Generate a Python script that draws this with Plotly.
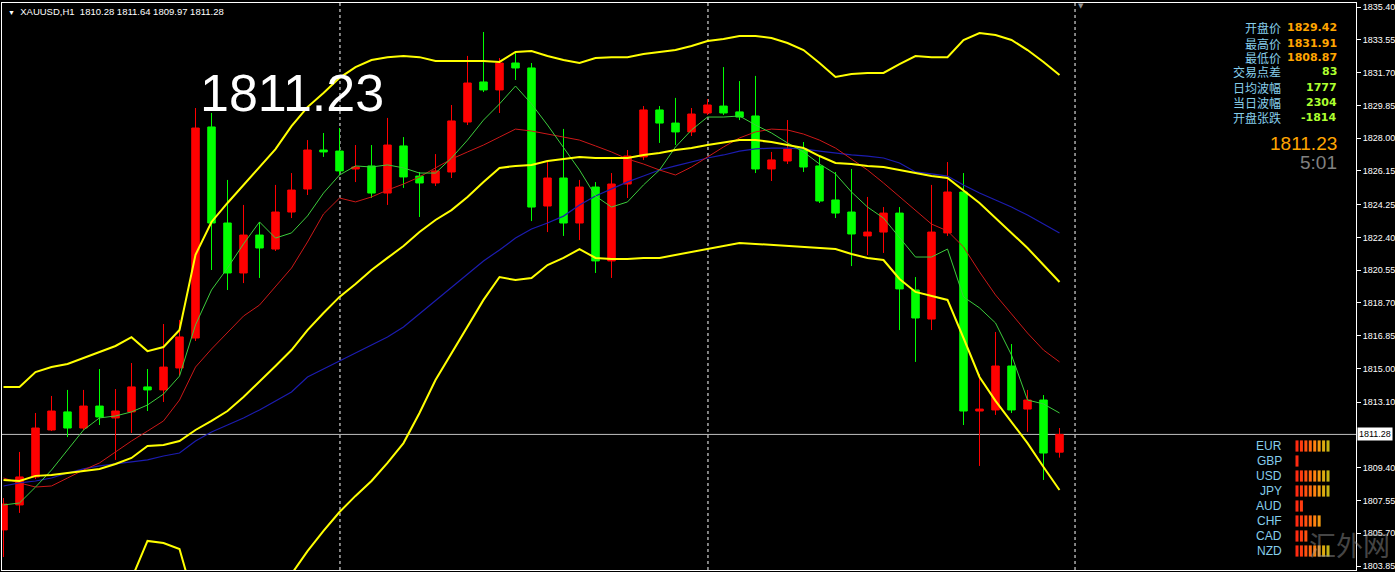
import plotly.graph_objects as go

# ---------------- data ----------------
opens = [1805.89, 1807.30, 1808.88, 1811.53, 1812.55, 1811.64, 1812.88, 1812.21, 1812.55, 1813.96,
         1813.79, 1815.03, 1816.72, 1828.63, 1823.21, 1820.39, 1822.53, 1821.74, 1823.83, 1825.13,
         1827.33, 1827.27, 1826.26, 1826.43, 1824.90, 1827.56, 1825.86, 1825.47, 1826.09, 1828.91,
         1831.17, 1830.72, 1832.24, 1831.96, 1824.17, 1825.75, 1823.21, 1825.24, 1821.07, 1825.41,
         1826.94, 1829.59, 1828.85, 1828.35, 1829.42, 1829.81, 1829.48, 1829.25, 1826.26, 1826.71,
         1827.39, 1826.43, 1824.51, 1823.83, 1822.48, 1822.70, 1823.77, 1819.43, 1817.79, 1822.65,
         1824.96, 1812.60, 1812.66, 1815.14, 1812.71, 1813.22, 1810.28]
highs = [1807.69, 1810.29, 1812.49, 1813.45, 1813.79, 1813.79, 1814.97, 1813.84, 1815.31, 1814.97,
         1817.51, 1817.74, 1829.70, 1829.42, 1825.64, 1824.23, 1823.27, 1825.36, 1826.03, 1827.89,
         1828.29, 1828.57, 1827.61, 1827.61, 1829.14, 1828.06, 1826.09, 1827.10, 1829.87, 1832.64,
         1833.99, 1832.52, 1832.86, 1832.24, 1826.65, 1828.52, 1825.64, 1825.52, 1826.03, 1827.33,
         1829.81, 1829.81, 1830.27, 1829.70, 1830.21, 1832.01, 1831.22, 1831.51, 1827.22, 1829.02,
         1827.78, 1826.94, 1826.09, 1826.26, 1824.68, 1824.11, 1824.11, 1820.16, 1825.36, 1826.65,
         1826.03, 1814.69, 1817.06, 1816.38, 1813.79, 1813.50, 1811.64]
lows = [1804.36, 1806.85, 1808.76, 1811.47, 1811.13, 1811.53, 1811.81, 1809.84, 1811.36, 1812.60,
        1813.11, 1814.63, 1816.55, 1820.56, 1819.43, 1819.82, 1820.11, 1821.63, 1823.49, 1824.79,
        1826.94, 1825.92, 1825.52, 1824.62, 1824.23, 1825.19, 1823.55, 1825.30, 1825.75, 1828.74,
        1830.60, 1829.42, 1831.28, 1823.32, 1822.70, 1822.48, 1822.25, 1820.39, 1820.11, 1824.62,
        1826.77, 1827.73, 1827.61, 1828.12, 1829.31, 1829.31, 1829.02, 1826.03, 1825.58, 1826.54,
        1826.09, 1824.34, 1823.49, 1820.78, 1821.40, 1821.52, 1817.17, 1815.37, 1817.17, 1822.48,
        1811.81, 1809.50, 1812.38, 1812.49, 1811.42, 1808.71, 1809.97]
closes = [1807.35, 1808.88, 1811.64, 1812.60, 1811.64, 1812.88, 1812.26, 1812.60, 1813.96, 1813.79,
          1815.08, 1816.78, 1828.57, 1823.21, 1820.39, 1822.53, 1821.80, 1823.83, 1825.07, 1827.33,
          1827.22, 1826.15, 1826.37, 1824.90, 1827.61, 1825.81, 1825.47, 1826.15, 1828.97, 1831.11,
          1830.72, 1832.24, 1831.96, 1824.11, 1825.75, 1823.21, 1825.24, 1821.07, 1825.41, 1826.99,
          1829.59, 1828.85, 1828.35, 1829.36, 1829.87, 1829.42, 1829.19, 1826.26, 1826.77, 1827.39,
          1826.37, 1824.45, 1823.77, 1822.59, 1822.70, 1823.77, 1819.49, 1817.85, 1822.70, 1824.96,
          1812.60, 1812.71, 1815.14, 1812.66, 1813.22, 1810.23, 1811.28]

bb_upper = [1813.95, 1813.95, 1814.80, 1815.08, 1815.25, 1815.59, 1815.93, 1816.27, 1816.77, 1815.98,
            1816.21, 1817.17, 1821.41, 1823.27, 1824.34, 1825.36, 1826.37, 1827.38, 1828.68, 1829.75,
            1830.55, 1831.40, 1832.01, 1832.41, 1832.57, 1832.63, 1832.57, 1832.35, 1832.35, 1832.35,
            1832.35, 1832.30, 1832.86, 1832.91, 1832.63, 1832.41, 1832.24, 1832.52, 1832.57, 1832.57,
            1832.75, 1832.86, 1832.97, 1833.20, 1833.48, 1833.59, 1833.76, 1833.76, 1833.65, 1833.37,
            1832.97, 1832.24, 1831.45, 1831.62, 1831.68, 1831.68, 1832.18, 1832.63, 1832.57, 1832.57,
            1833.54, 1833.93, 1833.82, 1833.54, 1832.97, 1832.30, 1831.56]
bb_middle = [1808.71, 1808.65, 1808.94, 1808.99, 1809.10, 1809.21, 1809.33, 1809.61, 1809.95, 1810.63,
             1810.68, 1810.91, 1811.53, 1812.04, 1812.60, 1813.39, 1814.24, 1815.14, 1816.04, 1817.17,
             1818.13, 1819.04, 1819.77, 1820.56, 1821.24, 1821.91, 1822.70, 1823.38, 1823.94, 1824.68,
             1825.53, 1826.32, 1826.43, 1826.49, 1826.71, 1826.82, 1826.94, 1826.88, 1826.88, 1826.88,
             1827.05, 1827.16, 1827.33, 1827.44, 1827.61, 1827.73, 1827.89, 1827.89, 1827.78, 1827.61,
             1827.44, 1826.99, 1826.60, 1826.54, 1826.43, 1826.37, 1826.20, 1826.03, 1825.86, 1825.75,
             1825.07, 1824.34, 1823.49, 1822.65, 1821.80, 1820.84, 1819.88]
bb_lower = [1802.89, 1802.78, 1803.06, 1802.89, 1802.95, 1802.84, 1802.73, 1802.95, 1803.12, 1805.27,
            1805.15, 1804.81, 1801.65, 1800.81, 1800.86, 1801.43, 1802.11, 1802.89, 1803.40, 1804.69,
            1805.83, 1806.90, 1807.81, 1808.65, 1809.67, 1810.79, 1812.49, 1814.35, 1815.87, 1817.34,
            1818.87, 1820.16, 1819.99, 1820.11, 1820.84, 1821.24, 1821.74, 1821.24, 1821.18, 1821.18,
            1821.24, 1821.24, 1821.41, 1821.57, 1821.74, 1821.91, 1822.08, 1822.03, 1821.97, 1821.91,
            1821.86, 1821.80, 1821.74, 1821.46, 1821.24, 1821.12, 1820.05, 1819.32, 1819.09, 1818.87,
            1816.72, 1814.52, 1813.17, 1811.98, 1810.79, 1809.44, 1808.14]
ma_blue = [1808.37, 1808.54, 1808.65, 1808.82, 1809.10, 1809.33, 1809.50, 1809.61, 1809.72, 1809.84,
           1810.06, 1810.23, 1810.91, 1811.42, 1811.81, 1812.21, 1812.66, 1813.17, 1813.67, 1814.52,
           1814.97, 1815.42, 1815.87, 1816.33, 1816.78, 1817.34, 1818.08, 1818.81, 1819.54, 1820.28,
           1821.07, 1821.69, 1822.36, 1822.87, 1823.21, 1823.60, 1824.23, 1824.73, 1825.13, 1825.53,
           1825.86, 1826.20, 1826.43, 1826.65, 1826.88, 1827.05, 1827.27, 1827.39, 1827.44, 1827.44,
           1827.39, 1827.27, 1827.16, 1827.05, 1826.99, 1826.88, 1826.60, 1826.09, 1825.98, 1825.86,
           1825.36, 1824.90, 1824.51, 1824.11, 1823.66, 1823.15, 1822.65]
ma_red = [1808.82, 1808.54, 1808.31, 1808.37, 1808.82, 1809.27, 1809.67, 1810.29, 1810.91, 1811.47,
          1812.04, 1813.22, 1815.08, 1816.10, 1817.06, 1817.96, 1818.58, 1819.60, 1820.67, 1822.14,
          1823.72, 1824.62, 1824.40, 1824.68, 1825.07, 1825.41, 1825.81, 1826.32, 1826.82, 1827.22,
          1827.61, 1828.06, 1828.51, 1828.40, 1828.23, 1828.06, 1827.89, 1827.56, 1827.22, 1826.82,
          1826.54, 1826.20, 1825.92, 1826.37, 1826.94, 1827.50, 1828.01, 1828.35, 1828.51, 1828.46,
          1828.23, 1827.89, 1827.44, 1826.82, 1826.20, 1825.47, 1824.68, 1823.94, 1823.15, 1822.76,
          1821.86, 1820.45, 1819.15, 1818.08, 1817.00, 1816.04, 1815.37]
ma_green = [1807.30, 1807.41, 1808.31, 1809.27, 1810.40, 1811.53, 1812.21, 1812.32, 1812.55, 1812.94,
            1813.56, 1814.57, 1817.46, 1819.43, 1820.67, 1822.03, 1823.27, 1822.36, 1822.65, 1823.61,
            1824.90, 1825.92, 1826.43, 1826.37, 1826.49, 1826.32, 1826.03, 1826.03, 1826.88, 1827.89,
            1829.02, 1829.93, 1830.94, 1829.93, 1828.74, 1827.50, 1826.20, 1824.73, 1824.11, 1824.40,
            1825.36, 1826.20, 1827.50, 1828.46, 1829.19, 1829.19, 1829.25, 1828.74, 1828.29, 1827.73,
            1827.22, 1826.54, 1825.98, 1824.96, 1824.11, 1823.49, 1822.42, 1821.29, 1821.29, 1821.74,
            1819.04, 1818.42, 1817.57, 1815.76, 1813.22, 1813.00, 1812.49]

separators = [21.03, 44.03, 66.97]
price_ticks = [1835.40, 1833.55, 1831.70, 1829.85, 1828.00, 1826.15, 1824.25, 1822.40, 1820.55,
               1818.70, 1816.85, 1815.00, 1813.10, 1809.40, 1807.55, 1805.70, 1803.85]
symbol_label = "XAUUSD,H1"
bid_price = 1811.23
timer_text = "5:01"
info_labels = ["开盘价", "最高价", "最低价", "交易点差", "日均波幅", "当日波幅", "开盘张跌"]
info_values = ["1829.42", "1831.91", "1808.87", "83", "1777", "2304", "-1814"]
info_colors = ["#FFA500", "#FFA500", "#FFA500", "#ADFF2F", "#ADFF2F", "#ADFF2F", "#ADFF2F"]
currencies = ["EUR", "GBP", "USD", "JPY", "AUD", "CHF", "CAD", "NZD"]
strength = [8, 1, 8, 8, 2, 6, 3, 8]
strength_colors = ["#ff2a10", "#ff3c10", "#ff5210", "#ff6a10", "#ff8210", "#f29a10", "#dcaa10", "#c4b414"]

# ---------------- figure ----------------
W, H = 1395, 572
ML, MR, MT, MB = 2, 39, 3, 2
PW, PH = W - ML - MR, H - MT - MB


def px(x):
    return (x - ML) / PW


def py(y):
    return 1 - (y - MT) / PH


idx = list(range(len(opens)))
fig = go.Figure()

fig.add_trace(go.Candlestick(
    x=idx, open=opens, high=highs, low=lows, close=closes,
    increasing=dict(line=dict(color="#ff0000", width=1), fillcolor="#ff0000"),
    decreasing=dict(line=dict(color="#00ff00", width=1), fillcolor="#00ff00"),
    whiskerwidth=0, showlegend=False, hoverinfo="skip"))

for vals, col, w in [(ma_blue, "#1c1cb0", 1.2), (ma_red, "#cc1818", 1), (ma_green, "#3ccc3c", 1),
                     (bb_lower, "#ffff00", 2), (bb_middle, "#ffff00", 2), (bb_upper, "#ffff00", 2)]:
    fig.add_trace(go.Scatter(x=idx, y=vals, mode="lines", line=dict(color=col, width=w),
                             showlegend=False, hoverinfo="skip"))

# currency strength bars
sx, sy, sc = [], [], []
for k, n in enumerate(strength):
    for j in range(n):
        sx.append(j)
        sy.append(k)
        sc.append(strength_colors[j])
fig.add_trace(go.Scatter(x=sx, y=sy, xaxis="x2", yaxis="y2", mode="markers",
                         marker=dict(symbol="line-ns", size=8, line=dict(width=3, color=sc)),
                         showlegend=False, hoverinfo="skip"))

shapes = []
for s in separators:
    shapes.append(dict(type="line", xref="x", yref="paper", x0=s, x1=s, y0=0, y1=1,
                       line=dict(color="#ffffff", width=1, dash="3px,3px"), layer="below"))
shapes.append(dict(type="line", xref="paper", yref="y", x0=0, x1=1, y0=closes[-1], y1=closes[-1],
                   line=dict(color="#c0c0c0", width=1), layer="below"))

ann = []
hdr = (f"<span style='font-size:7px'>▼</span>\u00a0\u00a0{symbol_label}\u00a0\u00a0"
       f"{opens[-1]:.2f} {highs[-1]:.2f} {lows[-1]:.2f} {closes[-1]:.2f}")
ann.append(dict(xref="paper", yref="paper", x=px(6), y=py(11), xanchor="left", yanchor="middle",
                text=hdr, showarrow=False, font=dict(family="Liberation Sans", size=9.5, color="#ffffff")))
ann.append(dict(xref="paper", yref="paper", x=px(292), y=py(93), xanchor="center", yanchor="middle",
                text=f"{bid_price:.2f}", showarrow=False,
                font=dict(family="Liberation Sans", size=52, color="#ffffff")))
rows_y = [28, 43, 57, 72, 87, 102, 117]
for lab, val, col, yy in zip(info_labels, info_values, info_colors, rows_y):
    ann.append(dict(xref="paper", yref="paper", x=px(1283), y=py(yy), xanchor="right", yanchor="middle",
                    text=lab, showarrow=False,
                    font=dict(family="Noto Sans CJK SC", size=12, color="#87CEEB")))
    ann.append(dict(xref="paper", yref="paper", x=px(1339), y=py(yy), xanchor="right", yanchor="middle",
                    text=f"<b>{val}</b>", showarrow=False,
                    font=dict(family="DejaVu Sans", size=11, color=col)))
ann.append(dict(xref="paper", yref="paper", x=px(1339), y=py(144), xanchor="right", yanchor="middle",
                text=f"{bid_price:.2f}", showarrow=False,
                font=dict(family="Liberation Sans", size=19, color="#FFA500")))
ann.append(dict(xref="paper", yref="paper", x=px(1339), y=py(162), xanchor="right", yanchor="middle",
                text=timer_text, showarrow=False,
                font=dict(family="Liberation Sans", size=19, color="#808080")))
for k, c in enumerate(currencies):
    ann.append(dict(xref="x2", yref="y2", x=-3.0, y=k, xanchor="right", yanchor="middle",
                    text=c, showarrow=False,
                    font=dict(family="Liberation Sans", size=12, color="#87CEEB")))
# current price tag on the axis
ann.append(dict(xref="paper", yref="y", x=1, y=closes[-1], xanchor="left", yanchor="middle",
                text=f"{closes[-1]:.2f}", showarrow=False, bgcolor="#ffffff", borderpad=1, xshift=1,
                font=dict(family="Liberation Sans", size=9, color="#000000")))
# chart shift marker
ann.append(dict(xref="paper", yref="paper", x=px(1081), y=py(6), xanchor="center", yanchor="middle",
                text="▼", showarrow=False, font=dict(family="DejaVu Sans", size=7, color="#909090")))
# watermark
ann.append(dict(xref="paper", yref="paper", x=px(1349), y=py(544), xanchor="center", yanchor="middle",
                text="汇外网", showarrow=False, opacity=0.45,
                font=dict(family="Noto Sans CJK SC", size=27, color="#9a9a9a")))

y_top = 1835.795 - 0.056433 * MT
y_bot = 1835.795 - 0.056433 * (H - MB)
x_left = (ML - 3.5) / 16
x_right = (W - MR - 3.5) / 16
b_left = (ML - 1297) / 4.43
b_right = (W - MR - 1297) / 4.43
c_top = (MT - 446) / 15
c_bot = (H - MB - 446) / 15

fig.update_layout(
    width=W, height=H, margin=dict(l=ML, r=MR, t=MT, b=MB, pad=0, autoexpand=False),
    paper_bgcolor="#000000", plot_bgcolor="#000000", boxgap=0.33,
    showlegend=False, shapes=shapes, annotations=ann,
    xaxis=dict(range=[x_left, x_right], showgrid=False, zeroline=False, showticklabels=False,
               ticks="", showline=True, mirror=True, linecolor="#ffffff", linewidth=1,
               rangeslider=dict(visible=False), fixedrange=True, automargin=False),
    yaxis=dict(range=[y_bot, y_top], side="right", showgrid=False, zeroline=False,
               tickvals=price_ticks, ticktext=[f"{t:.2f}" for t in price_ticks],
               ticks="outside", ticklen=4, tickcolor="#ffffff", tickwidth=1,
               tickfont=dict(family="Liberation Sans", size=9, color="#ffffff"),
               showline=True, mirror=True, linecolor="#ffffff", linewidth=1, fixedrange=True,
               automargin=False),
    xaxis2=dict(domain=[0, 1], anchor="y2", overlaying="x", range=[b_left, b_right], visible=False),
    yaxis2=dict(anchor="x2", overlaying="y", range=[c_bot, c_top], visible=False),
)

fig.write_html("out.html", config={"displayModeBar": False},
               post_script="document.body.style.margin='0px';document.body.style.overflow='hidden';")
